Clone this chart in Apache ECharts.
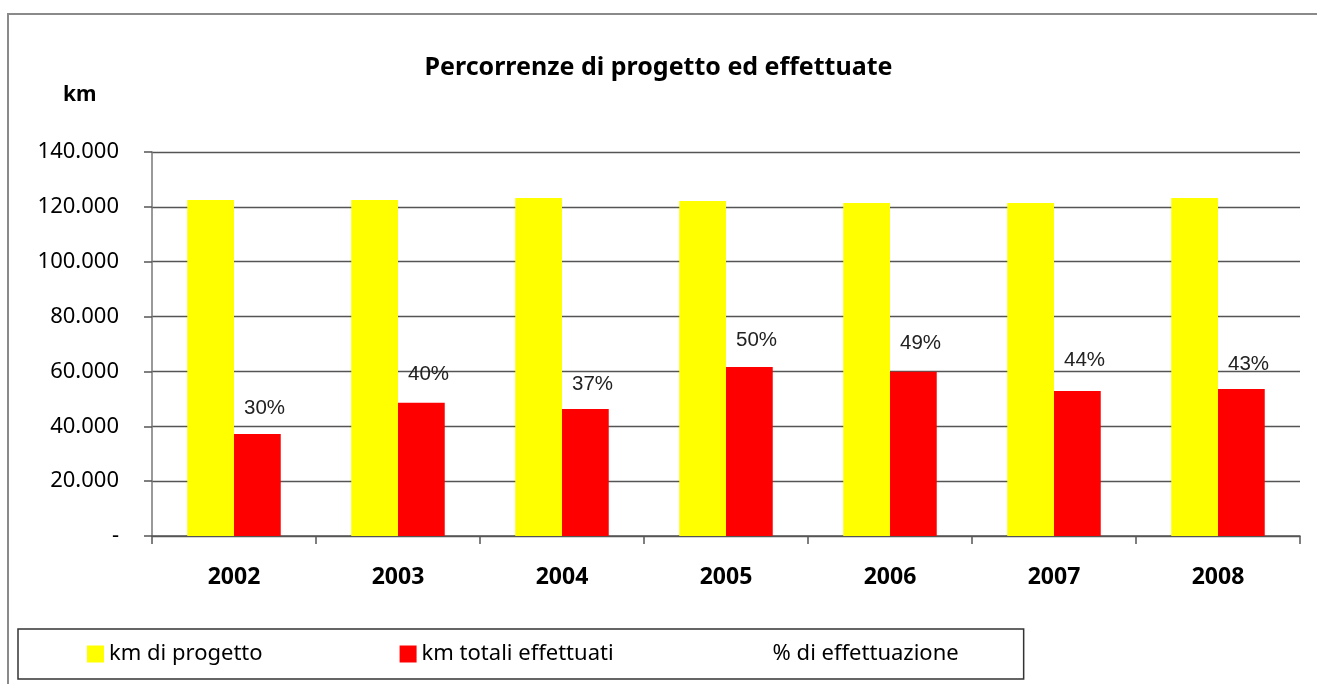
<!DOCTYPE html>
<html>
<head>
<meta charset="utf-8">
<script src="https://cdn.jsdelivr.net/npm/echarts@6/dist/echarts.min.js"></script>
<style>html,body{margin:0;padding:0;background:#fff;}#c{width:1317px;height:684px;}</style>
</head>
<body>
<div id="c"></div>
<script>
var categories = ['2002', '2003', '2004', '2005', '2006', '2007', '2008'];
var kmProgetto = [122500, 122500, 123200, 122100, 121400, 121400, 123200];
var kmEffettuati = [37200, 48600, 46300, 61600, 59900, 52900, 53600];
var percEffettuazione = [0.30, 0.40, 0.37, 0.50, 0.49, 0.44, 0.43];
var seriesNames = ['km di progetto', 'km totali effettuati', '% di effettuazione'];

function fmtThousands(v) {
  if (v === 0) return '-';
  return String(v).replace(/\B(?=(\d{3})+(?!\d))/g, '.');
}

var chart = echarts.init(document.getElementById('c'));
chart.setOption({
  animation: false,
  backgroundColor: '#fff',
  graphic: [{
    type: 'rect',
    shape: { x: 8, y: 14, width: 1400, height: 800 },
    style: { fill: 'none', stroke: '#8a8a8a', lineWidth: 2 },
    silent: true
  }],
  title: [{
    text: 'Percorrenze di progetto ed effettuate',
    left: 'center',
    top: 50,
    textStyle: { fontFamily: 'Noto Sans', fontWeight: 'bold', fontSize: 25, color: '#000' }
  }, {
    text: 'km',
    left: 58,
    top: 80,
    textStyle: { fontFamily: 'Noto Sans', fontWeight: 'bold', fontSize: 21, color: '#000' }
  }],
  legend: {
    left: 18,
    top: 629,
    padding: [14, 65, 14, 69],
    itemWidth: 17,
    itemHeight: 17,
    itemGap: 137,
    borderColor: '#333',
    borderWidth: 1.5,
    textStyle: { fontFamily: 'Noto Sans', fontSize: 22, color: '#000' },
    data: [
      { name: seriesNames[0], icon: 'rect' },
      { name: seriesNames[1], icon: 'rect' },
      { name: seriesNames[2], icon: 'rect', itemStyle: { color: 'rgba(0,0,0,0)', borderWidth: 0 } }
    ]
  },
  grid: { left: 152, right: 17, top: 152, bottom: 148 },
  xAxis: {
    type: 'category',
    data: categories,
    axisLine: { lineStyle: { color: '#555', width: 1.5 } },
    axisTick: { show: true, length: 8, lineStyle: { color: '#555', width: 1.5 } },
    axisLabel: { margin: 30, fontFamily: 'Noto Sans', fontWeight: 'bold', fontSize: 23, color: '#000' }
  },
  yAxis: [{
    type: 'value',
    min: 0,
    max: 140000,
    interval: 20000,
    axisLine: { show: true, lineStyle: { color: '#777', width: 1.5 } },
    axisTick: { show: true, length: 8, lineStyle: { color: '#555', width: 1.5 } },
    splitLine: { show: true, lineStyle: { color: '#555', width: 1.3 } },
    axisLabel: { margin: 33, fontFamily: 'Noto Sans', fontSize: 22, color: '#000', formatter: fmtThousands }
  }, {
    type: 'value',
    min: -0.076,
    max: 1.054,
    show: false,
    splitLine: { show: false }
  }],
  series: [{
    name: seriesNames[0],
    type: 'bar',
    data: kmProgetto,
    barGap: '0%',
    barCategoryGap: '43%',
    itemStyle: { color: '#FFFF00' }
  }, {
    name: seriesNames[1],
    type: 'bar',
    data: kmEffettuati,
    itemStyle: { color: '#FF0000' }
  }, {
    name: seriesNames[2],
    type: 'line',
    yAxisIndex: 1,
    data: percEffettuazione,
    symbol: 'circle',
    symbolSize: 2,
    showSymbol: true,
    showAllSymbol: true,
    lineStyle: { color: 'rgba(0,0,0,0)', width: 0 },
    itemStyle: { color: 'rgba(0,0,0,0)', borderWidth: 0 },
    z: 10,
    label: {
      show: true,
      position: 'right',
      distance: 9,
      fontFamily: 'Liberation Sans',
      fontSize: 20.5,
      color: '#222',
      formatter: function (p) { return Math.round(p.value * 100) + '%'; }
    }
  }]
});
</script>
</body>
</html>
